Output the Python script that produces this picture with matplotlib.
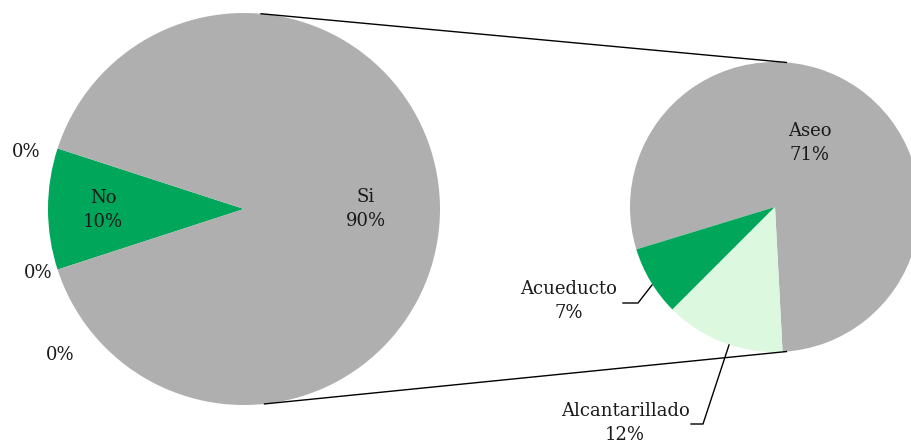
import matplotlib
matplotlib.use("Agg")
import matplotlib.pyplot as plt
import numpy as np

# Data
main_values = [0, 10, 0, 0, 90]          # left pie (zero slices, No, zero slices, Si)
main_labels = ["0%", "No\n10%", "0%", "0%", "Si\n90%"]
sub_categories = ["Aseo", "Acueducto", "Alcantarillado"]
sub_values = [71, 7, 12]                 # right pie, breakdown of "Si"

GRAY = "#AEAFAE"
GREEN = "#00A65A"
LIGHT = "#DCF8DE"

plt.rcParams['font.family'] = ['DejaVu Serif']

fig = plt.figure(figsize=(9.12, 4.42), dpi=100)
ax = fig.add_axes([0, 0, 1, 1])

c1, r1 = (244, 233), 196
c2, r2 = (775, 235), 145

ax.pie(main_values, center=c1, radius=r1, startangle=162, counterclock=True,
       colors=[GRAY, GREEN, GRAY, GRAY, GRAY], wedgeprops=dict(linewidth=0))
ax.pie(sub_values, center=c2, radius=r2, startangle=-87, counterclock=True,
       colors=[GRAY, GREEN, LIGHT], wedgeprops=dict(linewidth=0))

# connector lines
def pt(c, r, a):
    return c[0] + r*np.cos(np.radians(a)), c[1] + r*np.sin(np.radians(a))
p1 = pt(c1, r1, 85); p2 = pt(c2, r2, 85.5)
ax.plot([p1[0], p2[0]], [p1[1], p2[1]], color="black", lw=1)
p1 = pt(c1, r1, -84); p2 = pt(c2, r2, -85.5)
ax.plot([p1[0], p2[0]], [p1[1], p2[1]], color="black", lw=1)

fs = 13
kw = dict(ha="center", va="center", fontsize=fs, color="#1a1a1a", linespacing=1.4)
ax.text(26, 290, main_labels[0], **kw)
ax.text(103, 232, main_labels[1], **kw)
ax.text(38, 169, main_labels[2], **kw)
ax.text(60, 87, main_labels[3], **kw)
ax.text(366, 233, main_labels[4], **kw)

ax.text(810, 299, f"{sub_categories[0]}\n{sub_values[0]}%", **kw)
ax.text(569, 141, f"{sub_categories[1]}\n{sub_values[1]}%", **kw)
ax.text(625, 19, f"{sub_categories[2]}\n{sub_values[2]}%", **kw)

# leader lines
ax.plot([623, 638, 652], [139, 139, 157], color="black", lw=1)
ax.plot([691, 703, 729], [18, 18, 97], color="black", lw=1)

ax.set_xlim(0, 912)
ax.set_ylim(0, 442)
ax.set_aspect("equal")
ax.axis("off")
fig.savefig("out.png", dpi=100)
